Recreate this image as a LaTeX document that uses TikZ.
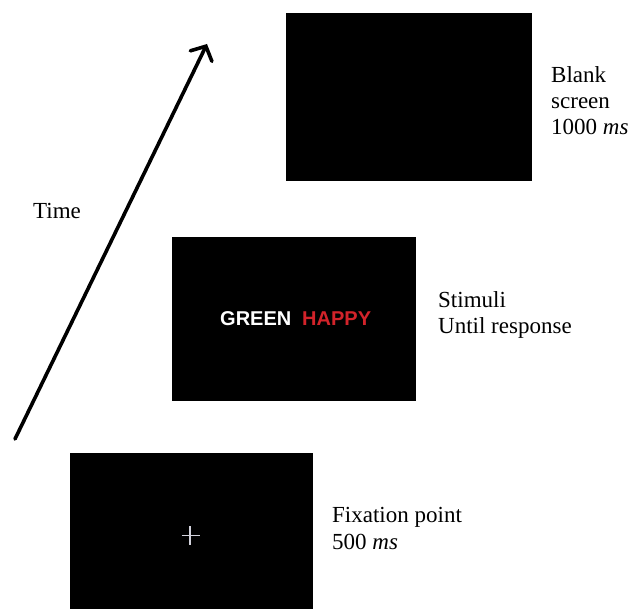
\documentclass[tikz,border=0pt]{standalone}
\usepackage{fontspec}
\setmainfont{Liberation Serif}
\newfontfamily\stimfont{Liberation Sans}
\usetikzlibrary{arrows.meta}
\definecolor{stimred}{RGB}{210,35,42}
\definecolor{crossgray}{RGB}{210,210,220}
\tikzset{
  screenbox/.style={fill=black, draw=none, inner sep=0pt},
  lbl/.style={anchor=base west, inner sep=0pt, font=\fontsize{23}{26}\selectfont, align=left},
  stim/.style={anchor=base west, inner sep=0pt, font=\stimfont\bfseries\fontsize{20}{24}\selectfont}
}
\begin{document}
\begin{tikzpicture}[x=1pt, y=-1pt]
\useasboundingbox (0,0) rectangle (635,609);
% screens
\node[screenbox, minimum width=246pt, minimum height=168pt] (blank) at (409,97) {};
\node[screenbox, minimum width=244pt, minimum height=164pt] (stimbox) at (294,319) {};
\node[screenbox, minimum width=243pt, minimum height=156pt] (fix) at (191.5,531) {};
% stimuli text
\node[stim, text=white] (green) at (220,326) {GREEN};
\node[stim, text=stimred] (happy) at (302,326) {HAPPY};
% fixation cross
\coordinate (cl) at (181.5,535.7);
\coordinate (cr) at (199.5,535.7);
\coordinate (ct) at (190,526.5);
\coordinate (cb) at (190,545.5);
\draw[crossgray, line width=1.2pt] (cl) -- (cr) (ct) -- (cb);
% time arrow
\coordinate (tstart) at (15,439);
\coordinate (tend) at (207,44);
\draw[line width=3.6pt, line cap=round, -{Straight Barb[length=11pt, width=24pt, line cap=round]}] (tstart) -- (tend);
% labels (base = baseline of the last line)
\node[lbl] (time) at (33,219) {Time};
\node[lbl] (blanklbl) at (551,135) {Blank\\screen\\1000 \textit{ms}};
\node[lbl] (stimlbl) at (438,334) {Stimuli\\Until response};
\node[lbl] (fixlbl) at (332,549) {Fixation point\\500 \textit{ms}};
\end{tikzpicture}
\end{document}
